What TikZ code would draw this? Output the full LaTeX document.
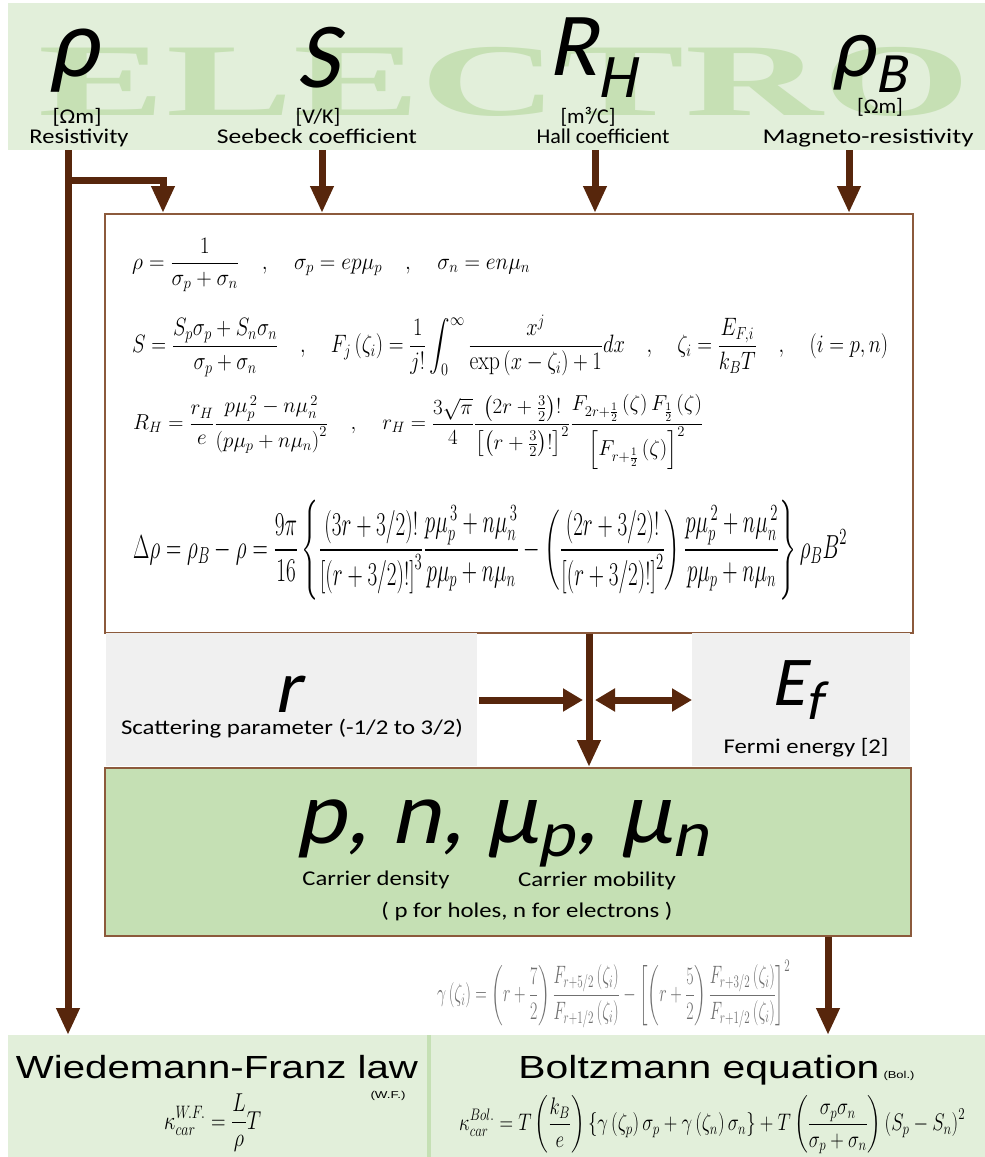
\documentclass[tikz,border=0pt]{standalone}
\usepackage{fontspec}
\usepackage{amsmath}
\usepackage{graphicx}
\usetikzlibrary{arrows.meta}
\newfontfamily\calib{Carlito}
\newfontfamily\calibi{Carlito}[FakeSlant=0.2]
\newfontfamily\arialf{Liberation Sans}
\newfontfamily\wmfont{Liberation Serif}
\newcommand{\hfit}[2]{\resizebox{#1}{\height}{#2}}
\newcommand{\fsz}[1]{\fontsize{#1}{#1}\selectfont}
\definecolor{bandgreen}{HTML}{E2EFDA}
\definecolor{wmgreen}{HTML}{C6E0B4}
\definecolor{boxgreen}{HTML}{C5E0B4}
\definecolor{panelgray}{HTML}{F0F0F0}
\definecolor{arrowbrown}{HTML}{57260C}
\definecolor{borderbrown}{HTML}{8C5A3C}
\definecolor{eqgray}{HTML}{707070}
\begin{document}
\begin{tikzpicture}[x=1pt,y=-1pt,
  lbl/.style={inner sep=0pt, anchor=base, font=\calib\fsz{21}},
  sym/.style={inner sep=0pt, anchor=base},
  flowline/.style={draw=arrowbrown, line width=7pt},
  flow/.style={flowline, -{Triangle[length=27pt,width=22pt]}},
  sideflow/.style={flowline, -{Triangle[length=20pt,width=22pt]}},
  bothflow/.style={flowline, {Triangle[length=20pt,width=22pt]}-{Triangle[length=20pt,width=22pt]}},
  panel/.style={anchor=north west, inner sep=0pt},
  eqn/.style={inner sep=0pt, anchor=west, font=\fsz{22}},
]
\fill[white] (0,0) rectangle (985,1157);
\useasboundingbox (0,0) rectangle (985,1157);

% ---------- panels ----------
\node[panel, fill=bandgreen, minimum width=977pt, minimum height=147pt] (band) at (8,3) {};
\node[inner sep=0pt, anchor=base, text=wmgreen, font=\wmfont\bfseries\fsz{103}] (wm) at (505,115) {\hfit{932pt}{ELECTRO}};
\node[panel, fill=white, draw=borderbrown, line width=1.5pt, minimum width=808pt, minimum height=419pt] (eqbox) at (104,213) {};
\node[panel, fill=panelgray, minimum width=371pt, minimum height=133pt] (rpanel) at (106,633) {};
\node[panel, fill=panelgray, minimum width=218pt, minimum height=133pt] (efpanel) at (692,633) {};
\node[panel, fill=boxgreen, draw=borderbrown, line width=1.5pt, minimum width=806pt, minimum height=168pt] (carrier) at (104,767) {};
\node[panel, fill=bandgreen, minimum width=421pt, minimum height=122pt] (wfpanel) at (8,1035) {};
\node[panel, fill=bandgreen, minimum width=556pt, minimum height=122pt] (bolpanel) at (429,1035) {};
\draw[boxgreen, line width=4pt] (wfpanel.north east) -- (wfpanel.south east);

% ---------- connectors ----------
\coordinate (rhoOut) at (68,150);
\coordinate (branch) at (68,180);
\coordinate (branchEnd) at (163,180);
\coordinate (sOut) at (322,150);
\coordinate (hOut) at (595,150);
\coordinate (bOut) at (849,150);
\coordinate (midX) at (589,0);
\coordinate (bolX) at (828,0);
\coordinate (rArrowStart) at (479,700);
\coordinate (rArrowEnd) at (583,700);
\coordinate (efL) at (595,700);

\draw[flow] (rhoOut) -- (rhoOut |- wfpanel.north);
\draw[flow] (branch) -- (branchEnd) -- (branchEnd |- eqbox.north);
\draw[flow] (sOut) -- (sOut |- eqbox.north);
\draw[flow] (hOut) -- (hOut |- eqbox.north);
\draw[flow] (bOut) -- (bOut |- eqbox.north);
\draw[flow] (eqbox.south -| midX) -- (carrier.north -| midX);
\draw[sideflow] (rArrowStart) -- (rArrowEnd);
\draw[bothflow] (efL) -- (efpanel.west |- efL);
\draw[flow] (carrier.south -| bolX) -- (bolpanel.north -| bolX);

% ---------- top symbols ----------
\node[sym, font=\calibi\fsz{98}] (rho) at (73,76) {ρ};
\node[lbl] (rhoUnit) at (77,123) {\hfit{49pt}{[Ωm]}};
\node[lbl] (rhoName) at (79,143) {\hfit{99pt}{Resistivity}};
\node[sym, font=\calibi\fsz{93}] (S) at (318,87) {S};
\node[lbl] (sUnit) at (318,123) {\hfit{45pt}{[V/K]}};
\node[lbl] (sName) at (317,143) {\hfit{200pt}{Seebeck coefficient}};
\node[sym, font=\calibi\fsz{90}] (RH) at (592,75) {R\raisebox{-22pt}{\fsz{62}H}};
\node[lbl] (hUnit) at (588,123) {\hfit{55pt}{[m³/C]}};
\node[lbl] (hName) at (603,143) {\hfit{133pt}{Hall coefficient}};
\node[sym, font=\calibi\fsz{85}] (rhoB) at (869,76) {ρ\raisebox{-16pt}{\fsz{57}B}};
\node[lbl] (bUnit) at (880,113) {\hfit{46pt}{[Ωm]}};
\node[lbl] (bName) at (868,143) {\hfit{211pt}{Magneto-resistivity}};

% ---------- equations ----------
\node[eqn] (eq1) at (132,265) {\resizebox*{398pt}{54pt}{$\displaystyle \rho=\frac{1}{\sigma_p+\sigma_n}\quad,\quad \sigma_p=ep\mu_p\quad,\quad \sigma_n=en\mu_n$}};
\node[eqn] (eq2) at (132,346) {\resizebox*{756pt}{62pt}{$\displaystyle S=\frac{S_p\sigma_p+S_n\sigma_n}{\sigma_p+\sigma_n}\quad,\quad F_j\left(\zeta_i\right)=\frac{1}{j!}\int_0^\infty\frac{x^j}{\exp\left(x-\zeta_i\right)+1}dx\quad,\quad \zeta_i=\frac{E_{F,i}}{k_BT}\quad,\quad \left(i=p,n\right)$}};
\node[eqn] (eq3) at (133,432) {\resizebox*{570pt}{76pt}{$\displaystyle R_H=\frac{r_H}{e}\frac{p\mu_p^{\,2}-n\mu_n^{\,2}}{\left(p\mu_p+n\mu_n\right)^2}\quad,\quad r_H=\frac{3\sqrt{\pi}}{4}\frac{\left(2r+\frac{3}{2}\right)!}{\left[\left(r+\frac{3}{2}\right)!\right]^2}\frac{F_{2r+\frac{1}{2}}\left(\zeta\right)F_{\frac{1}{2}}\left(\zeta\right)}{\left[F_{r+\frac{1}{2}}\left(\zeta\right)\right]^2}$}};
\node[eqn] (eq4) at (133,550) {\resizebox*{714pt}{100pt}{$\displaystyle \Delta\rho=\rho_B-\rho=\frac{9\pi}{16}\left\{\frac{\left(3r+3/2\right)!}{\left[\left(r+3/2\right)!\right]^3}\frac{p\mu_p^{\,3}+n\mu_n^{\,3}}{p\mu_p+n\mu_n}-\left(\frac{\left(2r+3/2\right)!}{\left[\left(r+3/2\right)!\right]^2}\right)\frac{p\mu_p^{\,2}+n\mu_n^{\,2}}{p\mu_p+n\mu_n}\right\}\rho_BB^2$}};

% ---------- middle ----------
\node[sym, font=\calibi\fsz{75}] (r) at (288,712) {r};
\node[lbl] (rName) at (292,734) {\hfit{342pt}{Scattering parameter (-1/2 to 3/2)}};
\node[sym, font=\calibi\fsz{70}] (Ef) at (797,705) {E\raisebox{-14pt}{\fsz{55}f}};
\node[lbl] (efName) at (806,753) {\hfit{165pt}{Fermi energy [2]}};

\node[sym, font=\calibi\fsz{90}] (pn) at (502,843) {\hfit{413pt}{p, n, μ\raisebox{-13pt}{\fsz{66}p}, μ\raisebox{-13pt}{\fsz{66}n}}};
\node[lbl] (cd) at (376,885) {\hfit{147pt}{Carrier density}};
\node[lbl] (cm) at (597,886) {\hfit{158pt}{Carrier mobility}};
\node[lbl] (holes) at (527,917) {\hfit{291pt}{( p for holes, n for electrons )}};

% ---------- gamma ----------
\node[eqn, text=eqgray] (gam) at (437,994) {\resizebox*{353pt}{68pt}{$\displaystyle \gamma\left(\zeta_i\right)=\left(r+\frac{7}{2}\right)\frac{F_{r+5/2}\left(\zeta_i\right)}{F_{r+1/2}\left(\zeta_i\right)}-\left[\left(r+\frac{5}{2}\right)\frac{F_{r+3/2}\left(\zeta_i\right)}{F_{r+1/2}\left(\zeta_i\right)}\right]^2$}};

% ---------- bottom ----------
\node[lbl, font=\arialf\fsz{32}] (wfTitle) at (217,1078) {\hfit{402pt}{Wiedemann-Franz law}};
\node[lbl, font=\arialf\fsz{10}] (wfTag) at (388,1098) {\hfit{35pt}{(W.F.)}};
\node[lbl, font=\arialf\fsz{32}] (bolTitle) at (699,1078) {\hfit{361pt}{Boltzmann equation}};
\node[lbl, font=\arialf\fsz{10}] (bolTag) at (899,1078) {\hfit{31pt}{(Bol.)}};
\node[eqn] (kwf) at (164,1123) {\resizebox*{97pt}{58pt}{$\displaystyle \kappa_{car}^{W.F.}=\frac{L}{\rho}T$}};
\node[eqn] (kbol) at (459,1125) {\resizebox*{506pt}{58pt}{$\displaystyle \kappa_{car}^{Bol.}=T\left(\frac{k_B}{e}\right)\left\{\gamma\left(\zeta_p\right)\sigma_p+\gamma\left(\zeta_n\right)\sigma_n\right\}+T\left(\frac{\sigma_p\sigma_n}{\sigma_p+\sigma_n}\right)\left(S_p-S_n\right)^2$}};
\end{tikzpicture}
\end{document}
